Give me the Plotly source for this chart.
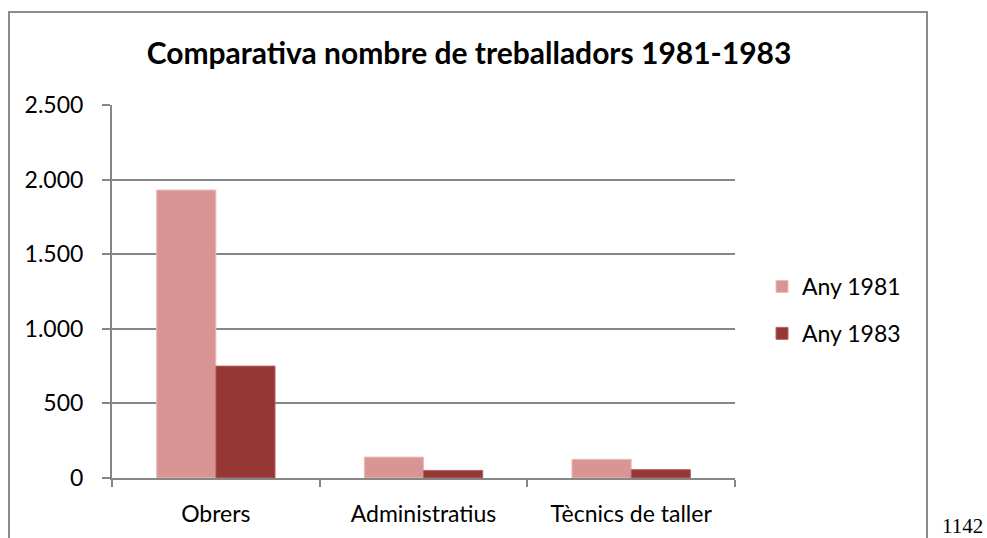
import plotly.graph_objects as go

categories = ["Obrers", "Administratius", "Tècnics de taller"]
any_1981 = [1930, 140, 125]
any_1983 = [750, 51, 56]
series_names = ["Any 1981", "Any 1983"]
y_tickvals = [0, 500, 1000, 1500, 2000, 2500]
y_ticktext = ["0", "500", "1.000", "1.500", "2.000", "2.500"]
title_text = "Comparativa nombre de treballadors 1981-1983"
page_number = "1142"

W, H = 987, 538
L, R, T, B = 112, 735, 105, 478

def px_x(x):
    return (x - L) / (R - L)

def px_y(y):
    return (B - y) / (B - T)

FONT = "Lato"
GRID = "#868686"

fig = go.Figure()
fig.add_trace(go.Bar(x=categories, y=any_1981, name=series_names[0], legendgroup="a",
                     marker=dict(color="#D99594", line=dict(color="#E8BDBC", width=1))))
fig.add_trace(go.Bar(x=categories, y=any_1983, name=series_names[1], legendgroup="b",
                     marker=dict(color="#953735", line=dict(color="#B36463", width=1))))

fig.update_layout(
    width=W, height=H,
    margin=dict(l=L, r=W - R, t=T, b=H - B),
    paper_bgcolor="white", plot_bgcolor="white",
    barmode="group", bargap=0.43, bargroupgap=0,
    font=dict(family=FONT, size=23, color="black"),
    title=dict(text="<b>" + title_text + "</b>", x=px_x(469), xanchor="center",
               xref="paper", y=1 - 53 / H, yanchor="middle", yref="container",
               font=dict(family=FONT, size=30, color="black")),
    showlegend=True,
    legend=dict(x=px_x(762), xanchor="left", y=px_y(310), yanchor="middle",
                font=dict(family=FONT, size=23), tracegroupgap=14,
                itemwidth=30, bgcolor="rgba(0,0,0,0)"),
    xaxis=dict(showline=True, linecolor=GRID, linewidth=2, ticks="outside",
               tickson="boundaries", ticklen=7, tickcolor=GRID, tickwidth=2,
               showgrid=False, tickfont=dict(family=FONT, size=23),
               ticklabelstandoff=14),
    yaxis=dict(range=[0, 2500], tickvals=y_tickvals, ticktext=y_ticktext,
               showline=True, linecolor=GRID, linewidth=2, ticks="outside",
               ticklen=8, tickcolor=GRID, tickwidth=2, showgrid=True,
               gridcolor=GRID, gridwidth=1.5, zeroline=False,
               tickfont=dict(family=FONT, size=23), ticklabelstandoff=14),
)

# outer chart frame
fig.add_shape(type="rect", xref="paper", yref="paper",
              x0=px_x(9), x1=px_x(927), y0=px_y(560), y1=px_y(12),
              line=dict(color="#8C8C8C", width=2), fillcolor="rgba(0,0,0,0)",
              layer="below")

fig.add_annotation(text=page_number, xref="paper", yref="paper",
                   x=px_x(962), y=px_y(526), xanchor="center", yanchor="middle",
                   showarrow=False,
                   font=dict(family="Liberation Serif", size=21, color="black"))

fig.write_html("out.html", config={"displayModeBar": False},
               post_script="document.body.style.margin='0';document.body.style.padding='0';")
